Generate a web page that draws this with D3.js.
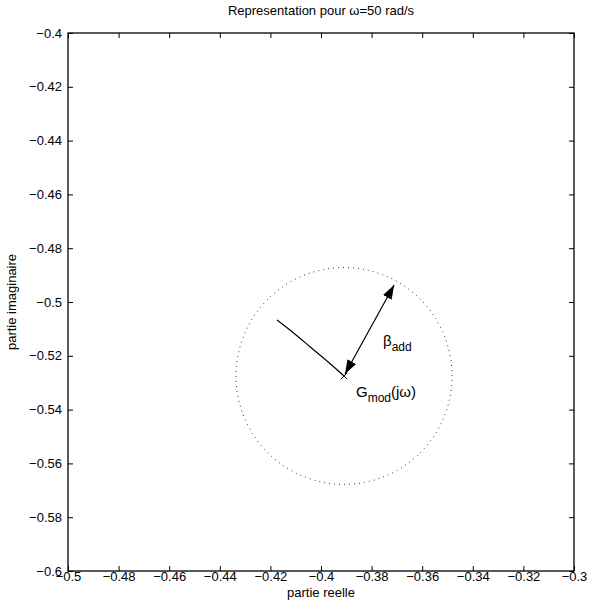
<!DOCTYPE html>
<html>
<head>
<meta charset="utf-8">
<script src="https://cdn.jsdelivr.net/npm/d3@7"></script>
<style>
  html, body { margin: 0; padding: 0; background: #fff; }
  svg text { font-family: "Liberation Sans", Arial, Helvetica, sans-serif; fill: #000; }
</style>
</head>
<body>
<svg id="chart" width="605" height="601"></svg>
<script>
// ---- data ----
const xTicks = [-0.5, -0.48, -0.46, -0.44, -0.42, -0.4, -0.38, -0.36, -0.34, -0.32, -0.3];
const yTicks = [-0.6, -0.58, -0.56, -0.54, -0.52, -0.5, -0.48, -0.46, -0.44, -0.42, -0.4];
const xDomain = [-0.5, -0.3];
const yDomain = [-0.6, -0.4];
const curveRe = [-0.4174, -0.4106, -0.4040, -0.3974, -0.3909];
const curveIm = [-0.5067, -0.5117, -0.5169, -0.5221, -0.5275];
const gMod = [-0.3909, -0.5275];
const betaAddRe = 0.0427;   // circle half-width (real axis)
const betaAddIm = 0.0403;   // circle half-height (imaginary axis)
const arrowEnd = [-0.3711, -0.4937];
const titleText = "Representation pour ω=50 rad/s";
const xLabelText = "partie reelle";
const yLabelText = "partie imaginaire";

// ---- layout ----
const svg = d3.select("#chart");
const L = 68, R = 574, T = 33, B = 571;
const x = d3.scaleLinear().domain(xDomain).range([L, R]);
const y = d3.scaleLinear().domain(yDomain).range([B, T]);
const fmt = d => (d < 0 ? "\u2212" : "") + String(Math.abs(+d.toFixed(2)));

// axes with inward ticks
const tickLen = 5;
const gx = svg.append("g").attr("transform", `translate(0,${B})`)
  .call(d3.axisBottom(x).tickValues(xTicks).tickFormat(fmt).tickSizeInner(-tickLen).tickSizeOuter(0).tickPadding(1));
const gxt = svg.append("g").attr("transform", `translate(0,${T})`)
  .call(d3.axisTop(x).tickValues(xTicks).tickFormat("").tickSizeInner(-tickLen).tickSizeOuter(0));
const gy = svg.append("g").attr("transform", `translate(${L},0)`)
  .call(d3.axisLeft(y).tickValues(yTicks).tickFormat(fmt).tickSizeInner(-tickLen).tickSizeOuter(0).tickPadding(6));
const gyr = svg.append("g").attr("transform", `translate(${R},0)`)
  .call(d3.axisRight(y).tickValues(yTicks).tickFormat("").tickSizeInner(-tickLen).tickSizeOuter(0));
[gx, gxt, gy, gyr].forEach(g => {
  g.select(".domain").remove();
  g.selectAll("line").attr("stroke", "#000").attr("stroke-width", 1);
  g.selectAll("text").attr("font-size", 13).attr("fill", "#000")
    .style("font-family", "'Liberation Sans', Arial, sans-serif");
});
gx.selectAll("text").attr("dy", "0.72em");

// frame
svg.append("rect").attr("x", L).attr("y", T).attr("width", R - L).attr("height", B - T)
  .attr("fill", "none").attr("stroke", "#000").attr("stroke-width", 1.3);

// dotted circle of radius beta_add
const circPts = d3.range(0, 361, 1).map(a => [gMod[0] + betaAddRe * Math.cos(a * Math.PI / 180), gMod[1] + betaAddIm * Math.sin(a * Math.PI / 180)]);
svg.append("path")
  .attr("d", d3.line().x(d => x(d[0])).y(d => y(d[1]))(circPts))
  .attr("fill", "none").attr("stroke", "#333").attr("stroke-width", 1)
  .attr("stroke-dasharray", "1,4");

// Nyquist curve segment
svg.append("path")
  .attr("d", d3.line().x((d, i) => x(curveRe[i])).y((d, i) => y(curveIm[i])).curve(d3.curveNatural)(curveRe))
  .attr("fill", "none").attr("stroke", "#000").attr("stroke-width", 1.2);

// cross marker at G_mod
const cx = x(gMod[0]), cy = y(gMod[1]);
svg.append("path").attr("d", `M${cx - 3},${cy - 3}L${cx + 3},${cy + 3}M${cx - 3},${cy + 3}L${cx + 3},${cy - 3}`)
  .attr("stroke", "#000").attr("stroke-width", 1);

// double arrow
const defs = svg.append("defs");
defs.append("marker").attr("id", "ah").attr("viewBox", "0 0 10 10").attr("refX", 10).attr("refY", 5)
  .attr("markerWidth", 14).attr("markerHeight", 14).attr("markerUnits", "userSpaceOnUse")
  .attr("orient", "auto-start-reverse")
  .append("path").attr("d", "M0,1.5L10,5L0,8.5Z").attr("fill", "#000");
svg.append("line")
  .attr("x1", cx + 1).attr("y1", cy - 2).attr("x2", x(arrowEnd[0])).attr("y2", y(arrowEnd[1]))
  .attr("stroke", "#000").attr("stroke-width", 1.2)
  .attr("marker-start", "url(#ah)").attr("marker-end", "url(#ah)");

// annotations
const beta = svg.append("text").attr("x", cx + 39).attr("y", cy - 30).attr("font-size", 15);
beta.append("tspan").text("β");
beta.append("tspan").attr("dy", 5).attr("font-size", 12).text("add");
const gm = svg.append("text").attr("x", cx + 12).attr("y", cy + 21).attr("font-size", 15);
gm.append("tspan").text("G");
gm.append("tspan").attr("dy", 5).attr("font-size", 12).text("mod");
gm.append("tspan").attr("dy", -5).text("(jω)");

// titles
svg.append("text").attr("x", (L + R) / 2).attr("y", 15).attr("text-anchor", "middle").attr("font-size", 13).text(titleText);
svg.append("text").attr("x", (L + R) / 2).attr("y", 597).attr("text-anchor", "middle").attr("font-size", 13).text(xLabelText);
svg.append("text").attr("transform", `translate(16,${(T + B) / 2}) rotate(-90)`).attr("text-anchor", "middle").attr("font-size", 13).text(yLabelText);
</script>
</body>
</html>
